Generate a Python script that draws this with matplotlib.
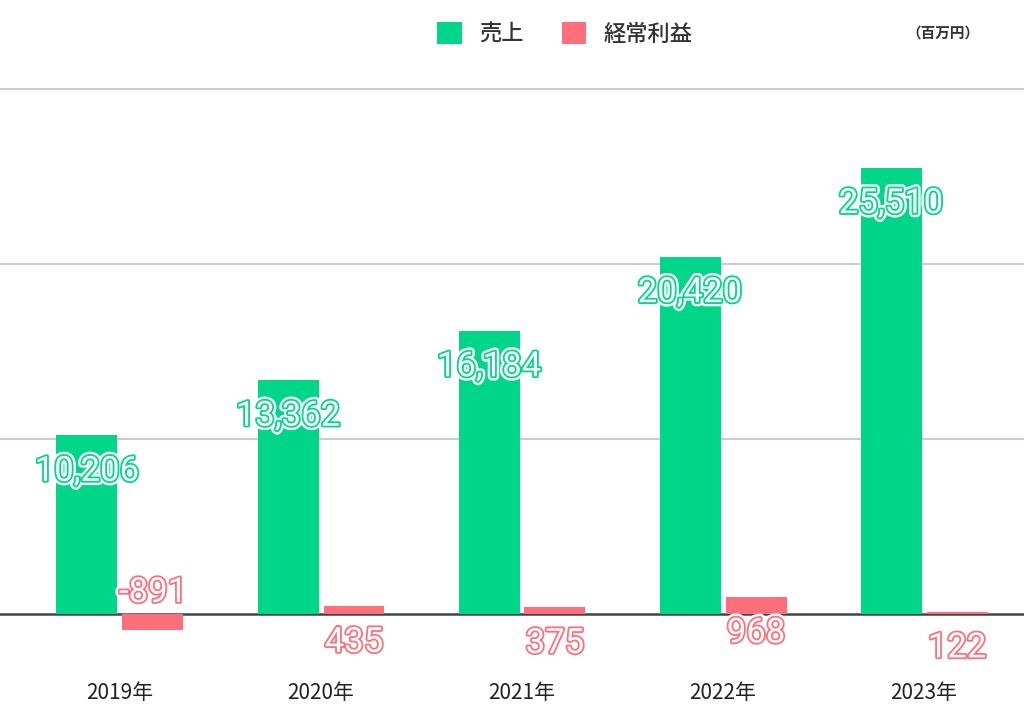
import matplotlib
matplotlib.use("Agg")
import matplotlib.pyplot as plt
import matplotlib.patheffects as pe
from matplotlib.patches import Patch
import numpy as np

years = ["2019年", "2020年", "2021年", "2022年", "2023年"]
sales = [10206, 13362, 16184, 20420, 25510]
profit = [-891, 435, 375, 968, 122]
series_names = ["売上", "経常利益"]
unit_label = "（百万円）"

GREEN = "#00D68A"
PINK = "#FF6F7B"
CJK = ["Noto Sans CJK JP", "DejaVu Sans"]

W, H = 1024, 728
fig = plt.figure(figsize=(W / 100, H / 100), dpi=100)
top_px, bot_px = 80, 665
ax = fig.add_axes([0, 1 - bot_px / H, 1, (bot_px - top_px) / H])

zero_px = 614
px_per_unit = 175 / 10000
ymax = (zero_px - top_px) / px_per_unit
ymin = -(bot_px - zero_px) / px_per_unit
ax.set_ylim(ymin, ymax)

x0 = 120
step = 201
ax.set_xlim(-x0 / step, (W - x0) / step)

x = np.arange(len(years))
bw = 61 / step
off = 33 / step

ax.bar(x - off, sales, width=bw, color=GREEN, zorder=3)
ax.bar(x + off, profit, width=bw, color=PINK, zorder=3)

for g in [10000, 20000, 30000]:
    ax.axhline(g, color="#cccccc", lw=1.5, zorder=1)
ax.axhline(0, color="#444444", lw=1.8, zorder=2)

def label(xp, v, color):
    s = f"{v:,}"
    dy = -36 if v >= 0 else 37
    t = ax.annotate(s, (xp, v), xytext=(0, dy * 0.72), textcoords="offset points",
                    ha="center", va="center", fontsize=25, family="Roboto",
                    color="white", zorder=5, annotation_clip=False)
    t.set_path_effects([pe.Stroke(linewidth=6, foreground="white"),
                        pe.Stroke(linewidth=2.6, foreground=color),
                        pe.Normal()])

for i in range(len(years)):
    label(x[i] - off, sales[i], GREEN)
    label(x[i] + off, profit[i], PINK)

for s in ax.spines.values():
    s.set_visible(False)
ax.set_yticks([])
ax.set_xticks([])

for i, yl in enumerate(years):
    fig.text((x0 + step * i) / W, 1 - 693 / H, yl, ha="center", va="center",
             fontsize=15, family=CJK, color="#222222")

handles = [Patch(facecolor=GREEN, edgecolor="none"), Patch(facecolor=PINK, edgecolor="none")]
fig.legend(handles, series_names, loc="center", bbox_to_anchor=(565 / W, 1 - 34 / H),
           ncol=2, frameon=False, prop={"family": CJK, "size": 16, "weight": "medium"},
           handlelength=1.1, handleheight=1.1, handletextpad=0.8, columnspacing=1.7,
           labelcolor="#333333")

fig.text(943 / W, 1 - 33 / H, unit_label, ha="center", va="center", fontsize=10.5,
         family=CJK, fontweight="bold", color="#333333")

fig.savefig("out.png", dpi=100)
